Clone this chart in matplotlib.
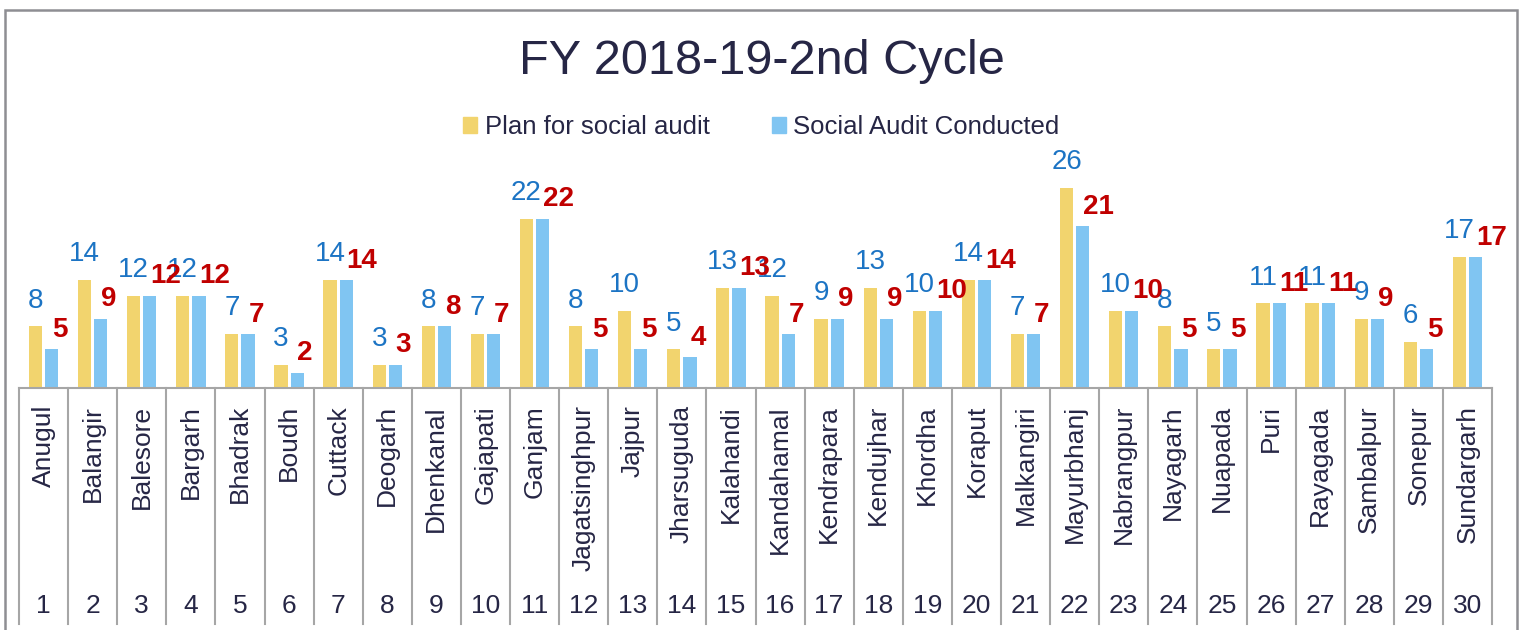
import matplotlib
matplotlib.use("Agg")
import matplotlib.pyplot as plt
import matplotlib.transforms as mtransforms
from matplotlib.patches import Patch, Rectangle
import numpy as np

plt.rcParams['font.family'] = ['Liberation Sans', 'DejaVu Sans']

# data
districts = ["Anugul", "Balangir", "Balesore", "Bargarh", "Bhadrak", "Boudh", "Cuttack",
             "Deogarh", "Dhenkanal", "Gajapati", "Ganjam", "Jagatsinghpur", "Jajpur",
             "Jharsuguda", "Kalahandi", "Kandahamal", "Kendrapara", "Kendujhar", "Khordha",
             "Koraput", "Malkangiri", "Mayurbhanj", "Nabrangpur", "Nayagarh", "Nuapada",
             "Puri", "Rayagada", "Sambalpur", "Sonepur", "Sundargarh"]
serial = [str(i) for i in range(1, 31)]
plan = [8, 14, 12, 12, 7, 3, 14, 3, 8, 7, 22, 8, 10, 5, 13, 12, 9, 13, 10, 14,
        7, 26, 10, 8, 5, 11, 11, 9, 6, 17]
conducted = [5, 9, 12, 12, 7, 2, 14, 3, 8, 7, 22, 5, 5, 4, 13, 7, 9, 9, 10, 14,
             7, 21, 10, 5, 5, 11, 11, 9, 5, 17]

YELLOW = "#F2D46E"
BLUE = "#80C5F2"
TXT = "#262645"
GRID = "#A6A6A6"

W, H = 1523, 630
fig = plt.figure(figsize=(W / 100, H / 100), dpi=100)
fig.patch.set_facecolor("white")

# plot area in pixels: x 19..1492, baseline at y 388, top at y 150
ax = fig.add_axes([19 / W, (H - 388) / H, (1492 - 19) / W, (388 - 150) / H])
x = np.arange(len(districts))
bw = 0.27
off = 0.165
ax.bar(x - off, plan, bw, color=YELLOW, zorder=2)
ax.bar(x + off, conducted, bw, color=BLUE, zorder=2)
ax.set_xlim(-0.5, len(districts) - 0.5)
ax.set_ylim(0, 30.9)
ax.axis("off")

# data labels
for i in range(len(districts)):
    ax.annotate(str(plan[i]), (x[i] - off, plan[i]), xytext=(0, 13.5),
                textcoords="offset points", ha="center", va="baseline", fontsize=20,
                color="#1C74C4", zorder=3)
    ax.annotate(str(conducted[i]), (x[i] + off - bw / 2, conducted[i]), xytext=(5, 9),
                textcoords="offset points", ha="left", va="baseline", fontsize=20,
                fontweight="bold", color="#C00000", zorder=4)

# category axis: baseline, separators, names and numbers
trans = mtransforms.blended_transform_factory(ax.transData, fig.transFigure)
y_base = (H - 388) / H
y_bot = (H - 624) / H
ax.plot([-0.5, len(districts) - 0.5], [y_base, y_base], transform=trans, color=GRID,
        lw=1.5, clip_on=False)
for k in range(len(districts) + 1):
    ax.plot([k - 0.5, k - 0.5], [y_base, y_bot], transform=trans, color=GRID, lw=1.5,
            clip_on=False)
for i in range(len(districts)):
    ax.text(x[i], (H - 405) / H, districts[i], transform=trans, rotation=90, ha="center",
            va="top", fontsize=19, color=TXT)
    ax.text(x[i], (H - 606) / H, serial[i], transform=trans, ha="center", va="center",
            fontsize=19, color=TXT)

# title and legend
fig.text(0.5, (H - 61) / H, "FY 2018-19-2nd Cycle", ha="center", va="center",
         fontsize=35, color=TXT)
handles = [Patch(color=YELLOW, label="Plan for social audit"),
           Patch(color=BLUE, label="Social Audit Conducted")]
leg = fig.legend(handles=handles, loc="center", bbox_to_anchor=(0.5, (H - 127) / H), ncol=2,
                 frameon=False, fontsize=18.5, handlelength=0.55, handleheight=0.55,
                 handletextpad=0.3, columnspacing=2.4)
for t in leg.get_texts():
    t.set_color(TXT)

# outer chart border
fig.patches.append(Rectangle((5 / W, -0.05), (1517 - 5) / W, (H - 10) / H + 0.05,
                             transform=fig.transFigure, fill=False, edgecolor="#8E8E93",
                             lw=1.8, zorder=10))

fig.savefig("out.png", dpi=100)
